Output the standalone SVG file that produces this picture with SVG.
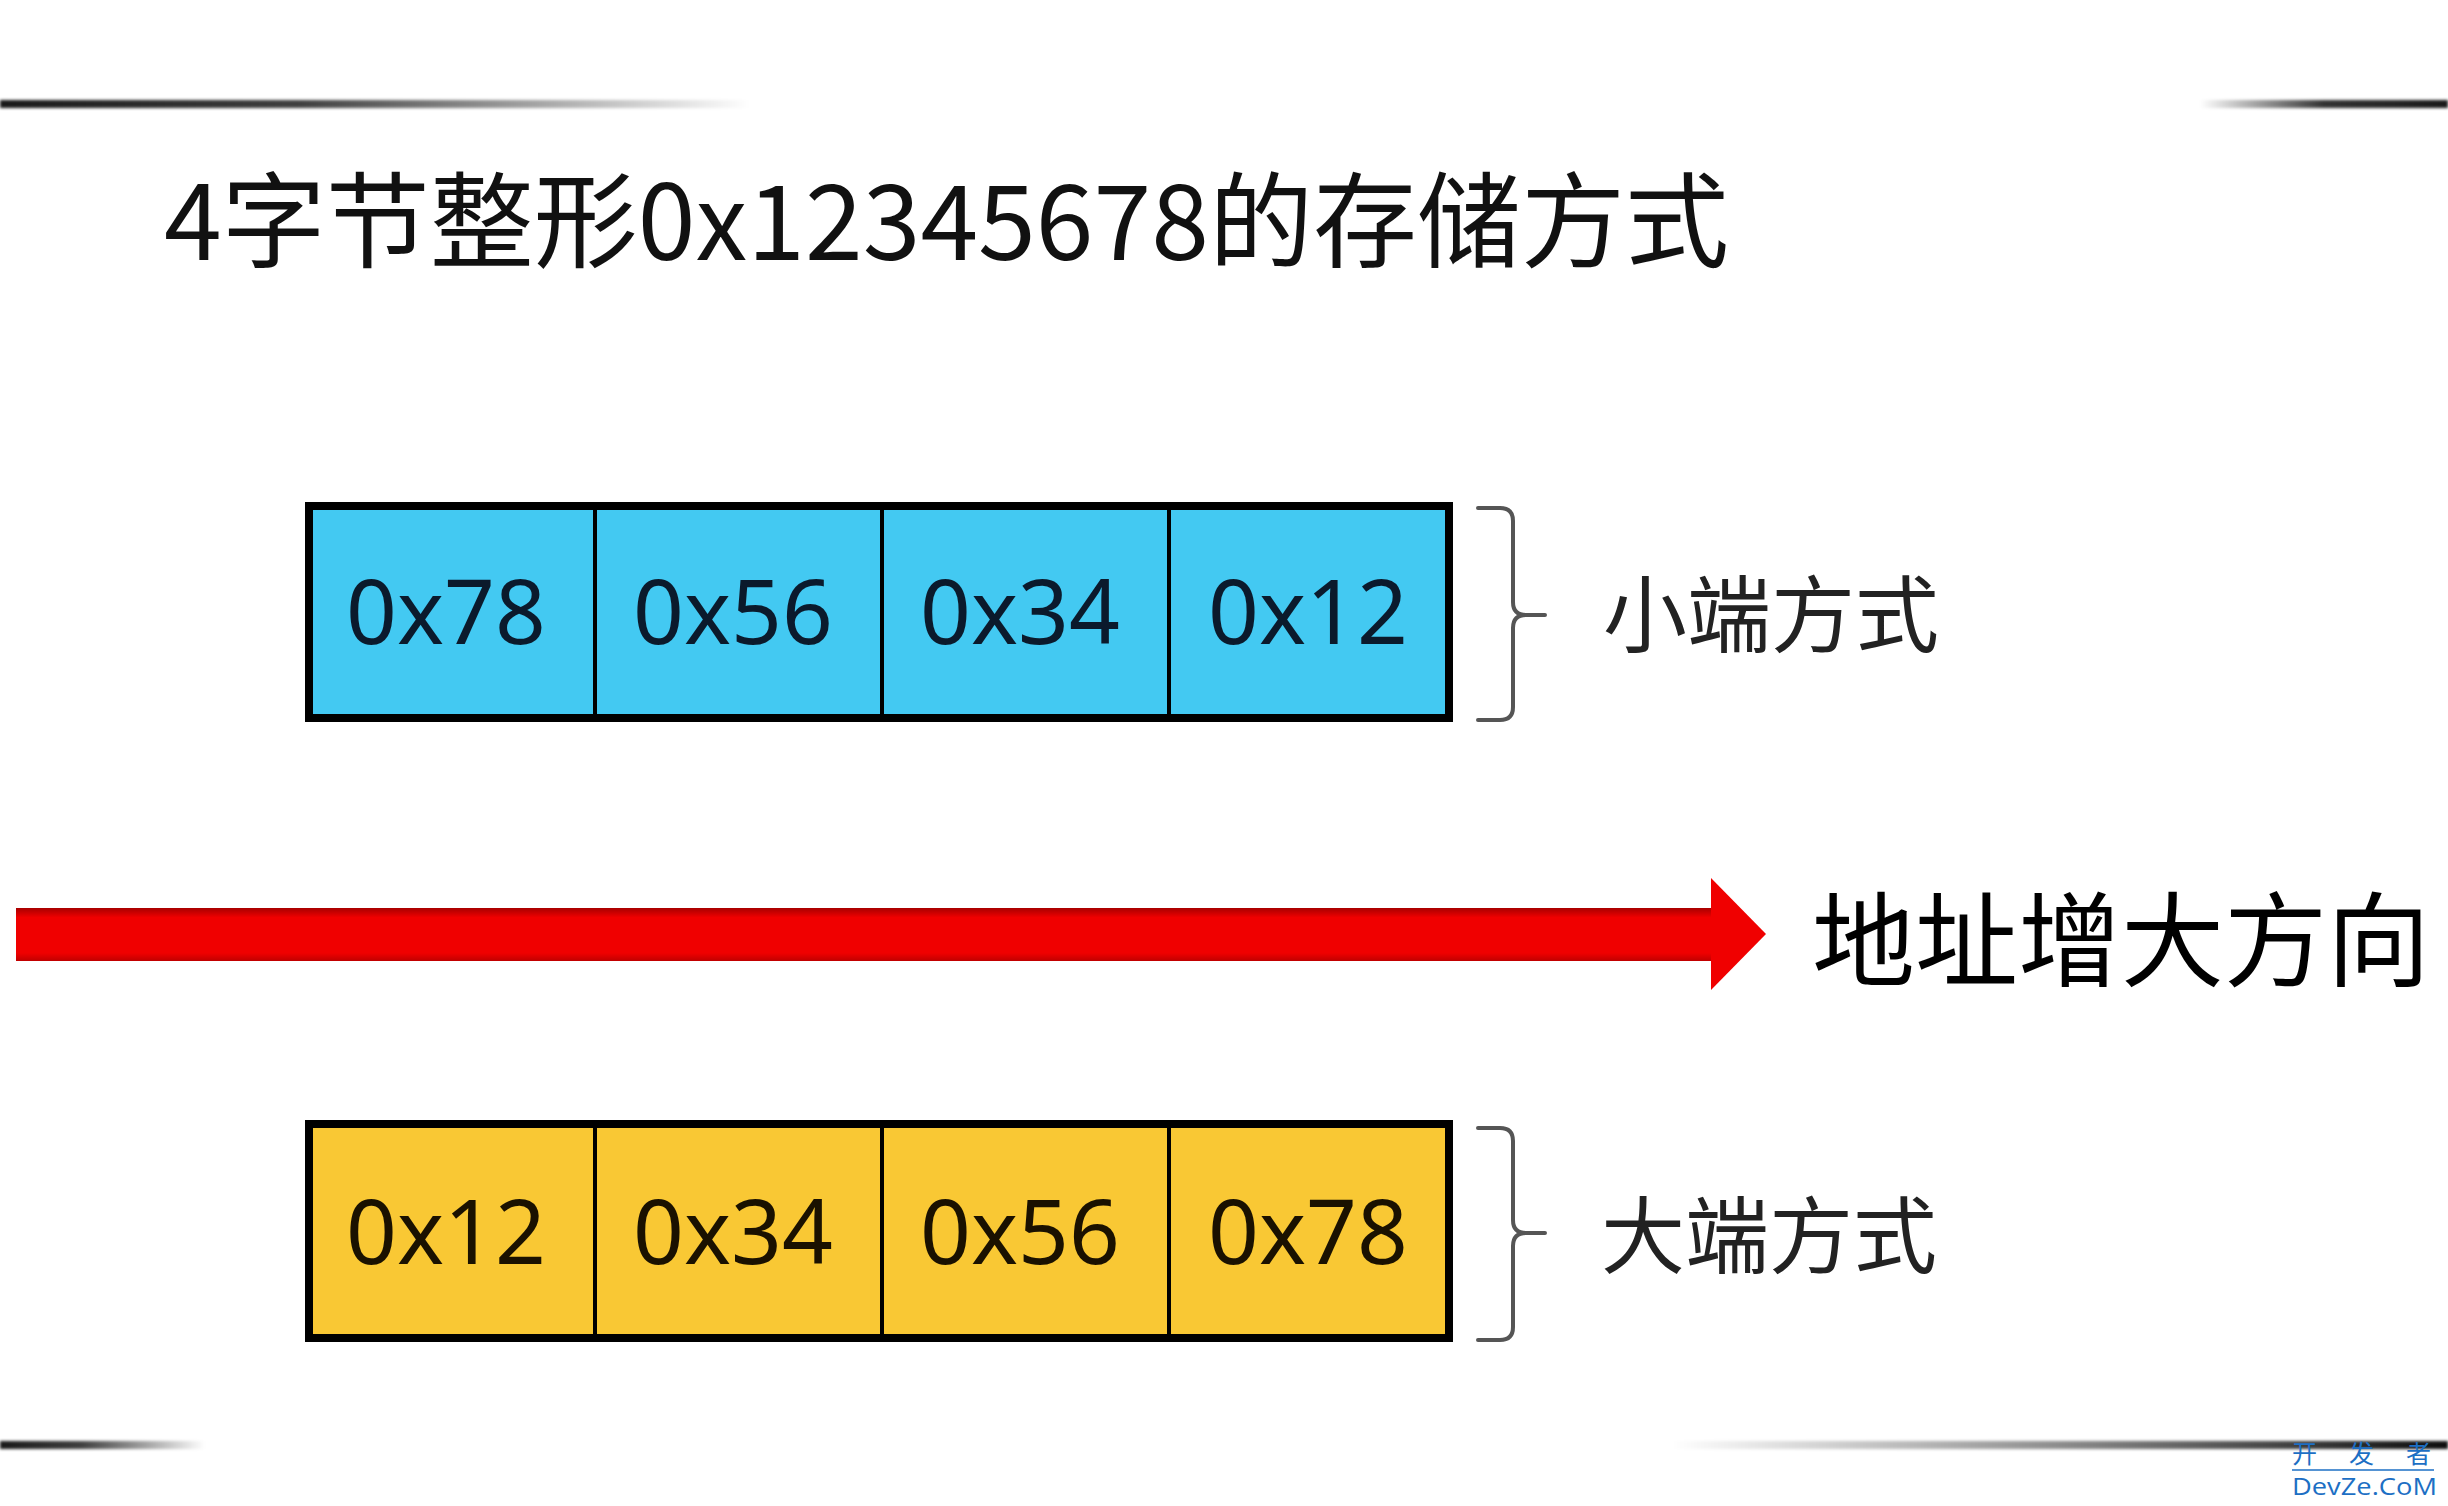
<svg xmlns="http://www.w3.org/2000/svg" width="2448" height="1506" viewBox="0 0 2448 1506">
  <defs>
    <style>
      .cjk { font-family: "Noto Sans CJK SC", "Noto Sans", sans-serif; }
      .title { font-size: 104px; fill: #111; }
      .label { font-size: 84px; fill: #222; }
      .dir { font-size: 103px; fill: #000; }
      .cellText { font-family: "Noto Sans", "Open Sans", sans-serif; font-size: 89px; text-anchor: middle; }
      .blueText { fill: #0b1a2c; }
      .yellowText { fill: #1a1100; }
      .blue { fill: #43c9f2; stroke: #000; stroke-width: 4; }
      .yellow { fill: #f9c834; stroke: #000; stroke-width: 4; }
      .outer { fill: none; stroke: #000; stroke-width: 8; }
      .brace { fill: none; stroke: #555; stroke-width: 4; stroke-linecap: round; }
      .wm { fill: #1d6fc4; }
    </style>
    <linearGradient id="fadeL1" x1="0" y1="0" x2="1" y2="0">
      <stop offset="0" stop-color="#000" stop-opacity="0.9"/>
      <stop offset="0.4" stop-color="#000" stop-opacity="0.75"/>
      <stop offset="1" stop-color="#000" stop-opacity="0"/>
    </linearGradient>
    <linearGradient id="fadeR1" x1="0" y1="0" x2="1" y2="0">
      <stop offset="0" stop-color="#000" stop-opacity="0"/>
      <stop offset="0.5" stop-color="#000" stop-opacity="0.8"/>
      <stop offset="1" stop-color="#000" stop-opacity="0.9"/>
    </linearGradient>
    <linearGradient id="fadeR2" x1="0" y1="0" x2="1" y2="0">
      <stop offset="0" stop-color="#000" stop-opacity="0"/>
      <stop offset="0.5" stop-color="#000" stop-opacity="0.45"/>
      <stop offset="1" stop-color="#000" stop-opacity="0.95"/>
    </linearGradient>
    <linearGradient id="shaft" x1="0" y1="0" x2="0" y2="1">
      <stop offset="0" stop-color="#a80000"/>
      <stop offset="0.18" stop-color="#f00000"/>
      <stop offset="0.85" stop-color="#f00000"/>
      <stop offset="1" stop-color="#c00000"/>
    </linearGradient>
    <filter id="soft" x="-5%" y="-100%" width="110%" height="300%">
      <feGaussianBlur stdDeviation="1.6"/>
    </filter>
  </defs>

  <rect x="0" y="0" width="2448" height="1506" fill="#fff"/>

  <!-- decorative rules -->
  <g id="rules" filter="url(#soft)">
    <rect x="0" y="100" width="750" height="8" fill="url(#fadeL1)"/>
    <rect x="2200" y="100" width="248" height="8" fill="url(#fadeR1)"/>
    <rect x="0" y="1441" width="205" height="8" fill="url(#fadeL1)"/>
    <rect x="1672" y="1441" width="776" height="8" fill="url(#fadeR2)"/>
  </g>

  <g id="title">
    <text class="cjk title" x="164" y="260">4字节整形0x12345678的存储方式</text>
  </g>

  <!-- little endian row -->
  <g id="little-endian">
    <rect class="blue" x="309" y="506" width="286" height="212"/>
    <rect class="blue" x="595" y="506" width="287" height="212"/>
    <rect class="blue" x="882" y="506" width="287" height="212"/>
    <rect class="blue" x="1169" y="506" width="280" height="212"/>
    <rect class="outer" x="309" y="506" width="1140" height="212"/>
    <text class="cellText blueText" x="446" y="644">0x78</text>
    <text class="cellText blueText" x="733" y="644">0x56</text>
    <text class="cellText blueText" x="1020" y="644">0x34</text>
    <text class="cellText blueText" x="1308" y="644">0x12</text>
  </g>

  <g id="little-label">
    <text class="cjk label" x="1603" y="646">小端方式</text>
  </g>

  <!-- big endian row -->
  <g id="big-endian">
    <rect class="yellow" x="309" y="1124" width="286" height="214"/>
    <rect class="yellow" x="595" y="1124" width="287" height="214"/>
    <rect class="yellow" x="882" y="1124" width="287" height="214"/>
    <rect class="yellow" x="1169" y="1124" width="280" height="214"/>
    <rect class="outer" x="309" y="1124" width="1140" height="214"/>
    <text class="cellText yellowText" x="446" y="1264">0x12</text>
    <text class="cellText yellowText" x="733" y="1264">0x34</text>
    <text class="cellText yellowText" x="1020" y="1264">0x56</text>
    <text class="cellText yellowText" x="1308" y="1264">0x78</text>
  </g>

  <g id="big-label">
    <text class="cjk label" x="1601" y="1267">大端方式</text>
  </g>

  <g id="direction-label">
    <text class="cjk dir" x="1812" y="979">地址增大方向</text>
  </g>

  <!-- connectors: braces and address arrow -->
  <g id="connectors">
    <path class="brace" d="M1478,508 L1500,508 Q1513,508 1513,521 L1513,602 Q1513,615 1526,615 L1545,615 M1526,615 Q1513,615 1513,628 L1513,707 Q1513,720 1500,720 L1478,720"/>
    <path class="brace" d="M1478,1128 L1500,1128 Q1513,1128 1513,1141 L1513,1220 Q1513,1233 1526,1233 L1545,1233 M1526,1233 Q1513,1233 1513,1246 L1513,1327 Q1513,1340 1500,1340 L1478,1340"/>
    <rect x="16" y="908" width="1697" height="53" fill="url(#shaft)"/>
    <polygon points="1711,878 1766,934 1711,990" fill="#f00000"/>
  </g>

  <!-- watermark -->
  <g id="watermark">
    <text class="cjk wm" x="2292 2349 2406" y="1463" font-size="25">开发者</text>
    <line x1="2292" y1="1470" x2="2434" y2="1470" stroke="#1d6fc4" stroke-width="1.5"/>
    <text class="wm" x="2292" y="1495" font-family="Open Sans, Liberation Sans, sans-serif" font-size="23" textLength="145" lengthAdjust="spacingAndGlyphs">DevZe.CoM</text>
  </g>
</svg>
